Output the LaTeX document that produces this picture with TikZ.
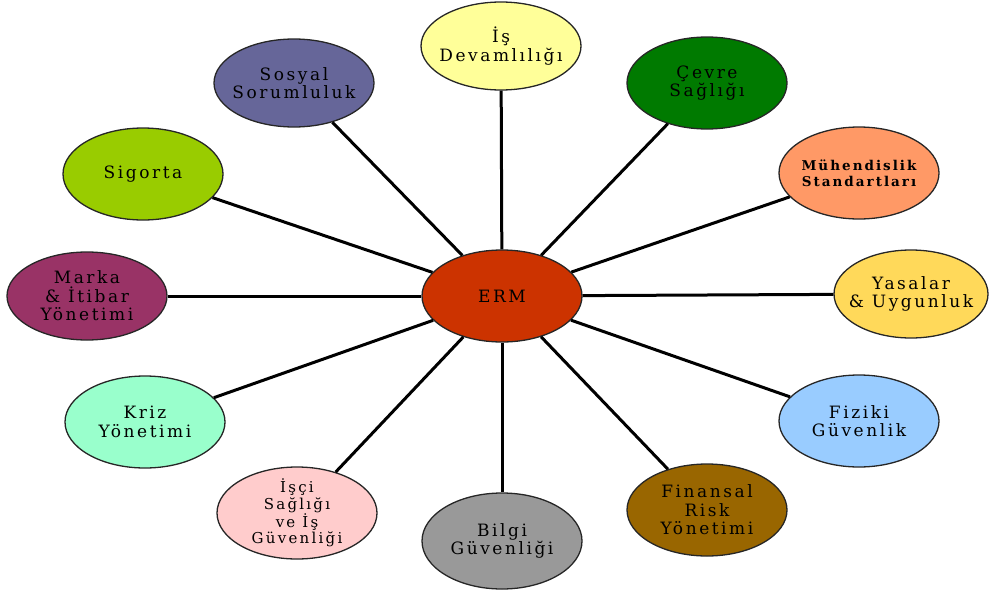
\documentclass[tikz,border=0pt]{standalone}
\usepackage{fontspec}
\setmainfont{DejaVu Serif}[LetterSpace=15]
\usetikzlibrary{shapes.geometric}
\definecolor{cErm}{HTML}{CC3300}
\definecolor{cDev}{HTML}{FFFF99}
\definecolor{cCevre}{HTML}{007A00}
\definecolor{cMuh}{HTML}{FF9966}
\definecolor{cYasa}{HTML}{FFD95A}
\definecolor{cFiz}{HTML}{99CCFF}
\definecolor{cFin}{HTML}{996600}
\definecolor{cBilgi}{HTML}{999999}
\definecolor{cIsci}{HTML}{FFCCCC}
\definecolor{cKriz}{HTML}{99FFCC}
\definecolor{cMarka}{HTML}{993366}
\definecolor{cSig}{HTML}{99CC00}
\definecolor{cSos}{HTML}{666699}
\tikzset{
  x=1pt, y=-1pt,
  bubble/.style={ellipse, draw=black!85, line width=1.3pt, minimum width=160pt,
    minimum height=92pt, inner xsep=-22pt, inner ysep=-12pt, align=center,
    font=\fontsize{17}{18.5}\selectfont, text=black},
  spoke/.style={draw=black, line width=3pt}
}
\begin{document}
\begin{tikzpicture}
\useasboundingbox (0,0) rectangle (990,589);
% centre
\node[bubble, fill=cErm] (erm) at (502,296) {ERM};
% ring of topics
\node[bubble, fill=cDev, minimum height=88pt] (dev) at (501,46) {İş\\Devamlılığı};
\node[bubble, fill=cCevre] (cevre) at (707,83) {Çevre\\Sağlığı};
\node[bubble, fill=cMuh, font=\fontsize{13.5}{16}\selectfont\bfseries] (muh) at (859,173) {Mühendislik\\Standartları};
\node[bubble, fill=cYasa, minimum width=154pt, minimum height=88pt] (yasa) at (911,294) {Yasalar\\\& Uygunluk};
\node[bubble, fill=cFiz] (fiz) at (859,421) {Fiziki\\Güvenlik};
\node[bubble, fill=cFin] (fin) at (707,510) {Finansal\\Risk\\Yönetimi};
\node[bubble, fill=cBilgi, minimum height=96pt] (bilgi) at (502,541) {Bilgi\\Güvenliği};
\node[bubble, fill=cIsci, font=\fontsize{15}{16.5}\selectfont] (isci) at (297,513) {İşçi\\Sağlığı\\ve İş\\Güvenliği};
\node[bubble, fill=cKriz] (kriz) at (145,422) {Kriz\\Yönetimi};
\node[bubble, fill=cMarka, minimum height=88pt] (marka) at (87,296) {Marka\\\& İtibar\\Yönetimi};
\node[bubble, fill=cSig] (sig) at (143,174) {Sigorta};
\node[bubble, fill=cSos, minimum height=88pt] (sos) at (294,83) {Sosyal\\Sorumluluk};
% spokes
\foreach \t in {dev,cevre,muh,yasa,fiz,fin,bilgi,isci,kriz,marka,sig,sos}
  \draw[spoke] (erm) -- (\t);
\end{tikzpicture}
\end{document}
